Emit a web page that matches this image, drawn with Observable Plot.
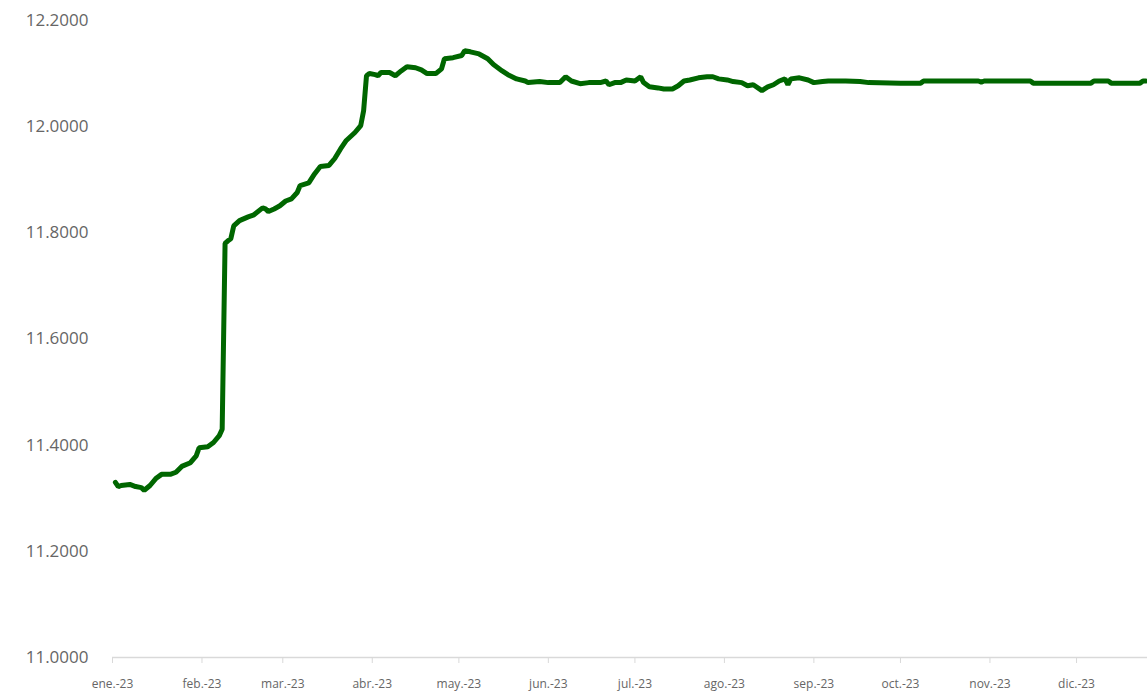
<!DOCTYPE html>
<html>
<head>
<meta charset="utf-8">
<script src="https://cdn.jsdelivr.net/npm/d3@7"></script>
<script src="https://cdn.jsdelivr.net/npm/@observablehq/plot@0.6"></script>
<style>
  html, body { margin: 0; padding: 0; background: #fff; }
  #chart svg { display: block; }
</style>
</head>
<body>
<div id="chart"></div>
<script>
const dates = [
  "2023-01-02","2023-01-03","2023-01-04","2023-01-07","2023-01-09","2023-01-11","2023-01-12","2023-01-14",
  "2023-01-16","2023-01-18","2023-01-21","2023-01-23","2023-01-25","2023-01-28","2023-01-30","2023-01-31",
  "2023-02-03","2023-02-05","2023-02-07","2023-02-08","2023-02-09","2023-02-10","2023-02-11","2023-02-12",
  "2023-02-14","2023-02-17","2023-02-19","2023-02-22","2023-02-23","2023-02-24","2023-02-26","2023-02-28",
  "2023-03-02","2023-03-04","2023-03-06","2023-03-07","2023-03-10","2023-03-12","2023-03-14","2023-03-17",
  "2023-03-19","2023-03-21","2023-03-23","2023-03-26","2023-03-28","2023-03-29","2023-03-30","2023-03-31",
  "2023-04-02","2023-04-03","2023-04-04","2023-04-07","2023-04-09","2023-04-11","2023-04-13","2023-04-16",
  "2023-04-18","2023-04-20","2023-04-23","2023-04-25","2023-04-26","2023-04-29","2023-05-02","2023-05-03",
  "2023-05-05","2023-05-08","2023-05-11","2023-05-13","2023-05-16","2023-05-18","2023-05-21","2023-05-24",
  "2023-05-25","2023-05-29","2023-06-01","2023-06-05","2023-06-07","2023-06-09","2023-06-12","2023-06-15",
  "2023-06-19","2023-06-21","2023-06-22","2023-06-24","2023-06-26","2023-06-28","2023-07-01","2023-07-03",
  "2023-07-04","2023-07-06","2023-07-09","2023-07-11","2023-07-14","2023-07-16","2023-07-18","2023-07-20",
  "2023-07-23","2023-07-26","2023-07-28","2023-07-30","2023-08-02","2023-08-04","2023-08-07","2023-08-09",
  "2023-08-11","2023-08-14","2023-08-16","2023-08-18","2023-08-20","2023-08-22","2023-08-23","2023-08-24",
  "2023-08-27","2023-08-30","2023-09-01","2023-09-04","2023-09-06","2023-09-12","2023-09-17","2023-09-20",
  "2023-10-01","2023-10-08","2023-10-09","2023-10-28","2023-10-29","2023-10-30","2023-11-15","2023-11-16",
  "2023-12-06","2023-12-07","2023-12-12","2023-12-13","2023-12-23","2023-12-24","2023-12-25"
];
const values = [
  11.330,11.322,11.324,11.326,11.322,11.320,11.315,11.324,
  11.337,11.345,11.345,11.349,11.360,11.367,11.380,11.395,
  11.397,11.405,11.418,11.430,11.780,11.785,11.789,11.813,
  11.823,11.830,11.834,11.847,11.845,11.840,11.845,11.851,
  11.860,11.864,11.876,11.889,11.894,11.911,11.925,11.927,
  11.940,11.958,11.974,11.989,12.002,12.030,12.096,12.100,
  12.098,12.096,12.102,12.102,12.096,12.105,12.113,12.111,
  12.107,12.100,12.100,12.109,12.128,12.130,12.134,12.143,
  12.141,12.137,12.128,12.117,12.105,12.098,12.090,12.086,
  12.083,12.085,12.083,12.083,12.094,12.086,12.081,12.083,
  12.083,12.086,12.079,12.083,12.083,12.088,12.086,12.094,
  12.083,12.075,12.073,12.071,12.071,12.077,12.086,12.088,
  12.092,12.094,12.094,12.090,12.088,12.085,12.083,12.077,
  12.079,12.068,12.075,12.079,12.086,12.090,12.079,12.090,
  12.092,12.088,12.083,12.085,12.086,12.086,12.085,12.083,
  12.082,12.082,12.086,12.086,12.084,12.086,12.086,12.082,
  12.082,12.086,12.086,12.082,12.082,12.086,12.086
];
const monthTicks = ["2023-01-01","2023-02-01","2023-03-01","2023-04-01","2023-05-01","2023-06-01",
  "2023-07-01","2023-08-01","2023-09-01","2023-10-01","2023-11-01","2023-12-01"];
const monthLabels = ["ene.-23","feb.-23","mar.-23","abr.-23","may.-23","jun.-23",
  "jul.-23","ago.-23","sep.-23","oct.-23","nov.-23","dic.-23"];
const yTicks = [11.0, 11.2, 11.4, 11.6, 11.8, 12.0, 12.2];

const parse = d3.utcParse("%Y-%m-%d");
const data = dates.map((d, i) => ({date: parse(d), value: values[i]}));
const tickDates = monthTicks.map(parse);
const labelOf = new Map(tickDates.map((d, i) => [+d, monthLabels[i]]));

const chart = Plot.plot({
  width: 1147,
  height: 697,
  marginLeft: 112,
  marginRight: 0,
  marginTop: 20,
  marginBottom: 40,
  style: {fontFamily: "'Open Sans', sans-serif", background: "#fff"},
  x: {type: "utc", domain: [parse("2023-01-01"), new Date(Date.UTC(2023, 11, 25, 14))]},
  y: {domain: [11.0, 12.2]},
  marks: [
    Plot.ruleY([11.0], {stroke: "#d9d9d9", strokeWidth: 1.5}),
    Plot.axisX({
      ticks: tickDates, tickSize: 6, tickPadding: 16, stroke: "#d9d9d9",
      tickFormat: d => labelOf.get(+d), fontSize: 12, fill: "#666666", label: null
    }),
    Plot.axisY({
      ticks: yTicks, tickSize: 0, tickPadding: 24,
      tickFormat: d => d.toFixed(4), fontSize: 17, fill: "#666666", label: null
    }),
    Plot.line(data, {x: "date", y: "value", stroke: "#006600", strokeWidth: 5, strokeLinejoin: "miter"})
  ]
});
document.getElementById("chart").appendChild(chart);
</script>
</body>
</html>
